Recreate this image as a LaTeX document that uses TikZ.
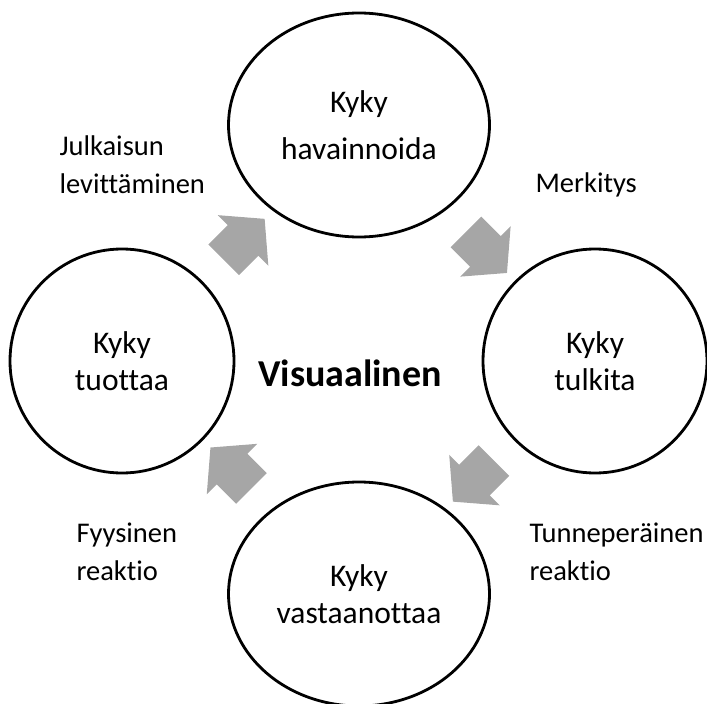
\documentclass[tikz,border=0pt]{standalone}
\usepackage{fontspec}
\setmainfont[Ligatures=NoCommon]{Carlito}
\usetikzlibrary{shapes.geometric, shapes.arrows}
\definecolor{arrowgray}{RGB}{166,166,166}

\begin{document}
\begin{tikzpicture}[x=1pt, y=-1pt,
    ability/.style={draw, line width=2.8pt, inner sep=0pt, align=center,
      font=\fontsize{31.5}{37}\selectfont},
    round/.style={ability, circle, minimum size=224pt},
    oval/.style={ability, ellipse, minimum width=261pt, minimum height=224pt},
    flow/.style={single arrow, fill=arrowgray, inner xsep=0pt, inner ysep=21.5pt,
      minimum height=58pt, single arrow head extend=14pt, single arrow tip angle=99},
    note/.style={anchor=base west, align=left, font=\fontsize{28.5}{38}\selectfont}]
  \useasboundingbox (0,0) rectangle (707,704);
  \node[oval] (havainnoida) at (359,125) {Kyky\\[10pt]havainnoida};
  \node[round] (tulkita) at (595,361) {Kyky\\tulkita};
  \node[oval] (vastaanottaa) at (359,594) {Kyky\\vastaanottaa};
  \node[round] (tuottaa) at (122,361) {Kyky\\tuottaa};
  \node[font=\fontsize{38}{45}\selectfont\bfseries] (visuaalinen) at (350,373) {Visuaalinen};
  \path
    (tuottaa) -- node[flow, rotate=45] {} (havainnoida)
    (havainnoida) -- node[flow, rotate=-45] {} (tulkita)
    (tulkita) -- node[flow, rotate=-135] {} (vastaanottaa)
    (vastaanottaa) -- node[flow, rotate=135] {} (tuottaa);
  \node[note] (julkaisu) at (56,193) {Julkaisun\\levittäminen};
  \node[note] (merkitys) at (532,192) {Merkitys};
  \node[note] (fyysinen) at (73,580) {Fyysinen\\reaktio};
  \node[note] (tunne) at (526,580) {Tunneperäinen\\reaktio};
\end{tikzpicture}
\end{document}
